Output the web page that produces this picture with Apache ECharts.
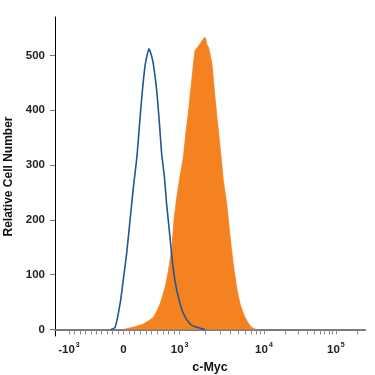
<!DOCTYPE html>
<html>
<head>
<meta charset="utf-8">
<script src="https://cdn.jsdelivr.net/npm/echarts@6/dist/echarts.min.js"></script>
<style>
html,body{margin:0;padding:0;background:#fff;}
#chart{width:375px;height:375px;}
</style>
</head>
<body>
<div id="chart"></div>
<script>
// Display scale: biexponential "channel" units 0..1000 across the x axis
const TICK_VALUES   = [-1000, 0, 1000, 10000, 100000];
const TICK_LABELS   = ['-10|3', '0', '10|3', '10|4', '10|5'];
const TICK_CHANNELS = [45, 221, 402, 674, 906];
const MINOR_VALUES  = [-900, -800, -700, -600, -500, -400, -300, -200, -100,
                       100, 200, 300, 400, 500, 600, 700, 800, 900,
                       2000, 3000, 4000, 5000, 6000, 7000, 8000, 9000,
                       20000, 30000, 40000, 50000, 60000, 70000, 80000, 90000,
                       200000];

// Isotype control (blue outline)
const BLUE_CH    = [180, 194, 210, 220, 231, 242, 253, 264, 272, 280, 290, 297, 303, 310, 317, 328, 337, 344, 353, 360, 371, 377, 387, 398, 414, 436, 457, 484];
const BLUE_COUNT = [0,   4,   47,  89,  138, 199, 260, 314, 369, 424, 479, 500, 512, 502, 485, 436, 375, 321, 278, 229, 168, 132, 89,  59,  29,  10,  4,   0];

// c-Myc stained (orange filled)
const OR_CH    = [220, 252, 285, 317, 339, 355, 366, 377, 384, 393, 403, 414, 423, 430, 441, 452, 460, 468, 476, 484, 490, 495, 506, 516, 527, 538, 543, 554, 565, 575, 586, 597, 613, 629, 639, 650];
const OR_COUNT = [0,   4,   10,  22,  47,  77,  108, 150, 199, 241, 278, 314, 363, 394, 454, 509, 515, 521, 528, 533, 520, 515, 485, 424, 363, 302, 272, 229, 168, 120, 77,  47,  22,  7,   2,   0];

const Y_TICKS = [0, 100, 200, 300, 400, 500];

function toChannel(v) {
  const V = TICK_VALUES, C = TICK_CHANNELS;
  if (v <= V[2] && v >= V[0]) {
    for (let i = 0; i < 2; i++) {
      if (v >= V[i] && v <= V[i + 1]) return C[i] + (C[i + 1] - C[i]) * (v - V[i]) / (V[i + 1] - V[i]);
    }
  }
  if (v > V[2]) {
    for (let i = 2; i < V.length - 1; i++) {
      if (v <= V[i + 1]) return C[i] + (C[i + 1] - C[i]) * Math.log10(v / V[i]);
    }
    const last = V.length - 1;
    return C[last] + (C[last] - C[last - 1]) * Math.log10(v / V[last]);
  }
  return C[0] - (C[1] - C[0]) * Math.log10(-v / -V[0]);
}

const majorCh = TICK_CHANNELS.slice();
const minorCh = MINOR_VALUES.map(toChannel);
const allTicks = majorCh.concat(minorCh).sort((a, b) => a - b);

const FONT = "'Liberation Sans', Arial, sans-serif";

const chart = echarts.init(document.getElementById('chart'), null, {renderer: 'canvas'});
chart.setOption({
  animation: false,
  backgroundColor: '#fff',
  grid: {left: 55, right: 10, top: 17, bottom: 39, containLabel: false, outerBoundsMode: 'none'},
  xAxis: {
    type: 'value',
    min: 0, max: 1000,
    name: 'c-Myc',
    nameLocation: 'middle',
    nameGap: 25,
    nameTextStyle: {fontFamily: FONT, fontWeight: 'bold', fontSize: 12.5, color: '#111'},
    axisLine: {onZero: true, lineStyle: {color: '#7a7a7a', width: 2}},
    axisTick: {show: true, customValues: allTicks, length: 5, lineStyle: {color: '#8a8a8a', width: 1}},
    axisLabel: {
      customValues: majorCh,
      margin: 6,
      formatter: function (val) {
        let idx = 0, best = 1e9;
        majorCh.forEach((c, i) => { if (Math.abs(c - val) < best) { best = Math.abs(c - val); idx = i; } });
        const parts = TICK_LABELS[idx].split('|');
        return parts.length > 1 ? '{b|' + parts[0] + '}{s|' + parts[1] + '}' : '{b|' + parts[0] + '}';
      },
      rich: {
        b: {fontFamily: FONT, fontWeight: 'bold', fontSize: 11.5, color: '#222', lineHeight: 14, verticalAlign: 'bottom'},
        s: {fontFamily: FONT, fontWeight: 'bold', fontSize: 7, color: '#222', lineHeight: 14, verticalAlign: 'top', padding: [0, 0, 0, 1]}
      }
    },
    splitLine: {show: false}
  },
  yAxis: {
    type: 'value',
    min: -12, max: 570,
    name: 'Relative Cell Number',
    nameLocation: 'middle',
    nameGap: 36,
    nameTextStyle: {fontFamily: FONT, fontWeight: 'bold', fontSize: 12, color: '#111'},
    axisLine: {show: true, lineStyle: {color: '#000', width: 1}},
    axisTick: {show: true, customValues: Y_TICKS, length: 5, lineStyle: {color: '#777'}},
    axisLabel: {customValues: Y_TICKS, margin: 10, fontFamily: FONT, fontWeight: 'bold', fontSize: 11.5, color: '#222'},
    splitLine: {show: false}
  },
  series: [
    {
      name: 'c-Myc',
      type: 'line',
      data: OR_CH.map((c, i) => [c, OR_COUNT[i]]),
      symbol: 'none',
      smooth: 0.2,
      lineStyle: {width: 0.8, color: '#f58220'},
      areaStyle: {color: '#f58220', opacity: 1},
      z: 2
    },
    {
      name: 'Isotype',
      type: 'line',
      data: BLUE_CH.map((c, i) => [c, BLUE_COUNT[i]]),
      symbol: 'none',
      smooth: 0.2,
      lineStyle: {width: 1.6, color: '#1f5796'},
      z: 3
    }
  ]
});
</script>
</body>
</html>
